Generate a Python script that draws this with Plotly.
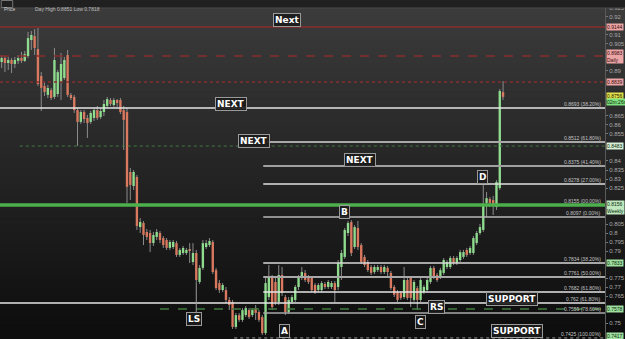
import plotly.graph_objects as go

# ---------------- data ----------------
opens = [0.8950,0.8972,0.8944,0.8961,0.8939,0.8956,0.8972,0.8956,0.8983,0.9072,
0.9094,0.9022,0.8872,0.8817,0.8767,0.8794,0.8756,0.8772,0.8839,0.8861,
0.8989,0.8767,0.8756,0.8683,0.8617,0.8672,0.8639,0.8617,0.8639,0.8683,
0.8644,0.8672,0.8706,0.8739,0.8711,0.8739,0.8739,0.8683,0.8672,0.8339,
0.8261,0.8311,0.8033,0.8056,0.8006,0.8000,0.7944,0.7978,0.8000,0.7972,
0.7961,0.7917,0.7922,0.7944,0.7878,0.7889,0.7889,0.7906,0.7839,0.7889,
0.7728,0.7806,0.7922,0.7933,0.7950,0.7794,0.7722,0.7683,0.7683,0.7628,
0.7617,0.7478,0.7544,0.7517,0.7544,0.7572,0.7544,0.7583,0.7561,0.7533,
0.7444,0.7644,0.7750,0.7728,0.7617,0.7767,0.7644,0.7561,0.7617,0.7628,
0.7700,0.7750,0.7778,0.7756,0.7750,0.7711,0.7683,0.7683,0.7717,0.7700,
0.7700,0.7722,0.7700,0.7811,0.7867,0.8000,0.8061,0.7922,0.8028,0.7933,
0.7867,0.7839,0.7811,0.7783,0.7794,0.7811,0.7783,0.7806,0.7778,0.7700,
0.7672,0.7667,0.7644,0.7739,0.7750,0.7628,0.7694,0.7628,0.7672,0.7683,
0.7728,0.7806,0.7767,0.7756,0.7778,0.7811,0.7811,0.7861,0.7833,0.7850,
0.7867,0.7906,0.7889,0.7889,0.7944,0.8000,0.8017,0.8167,0.8189,0.8183,
0.8144,0.8250,0.8783]

highs = [0.8989,0.8983,0.8978,0.8972,0.8978,0.8989,0.9006,0.9011,0.9117,0.9122,
0.9133,0.9139,0.8894,0.8839,0.8822,0.8806,0.9028,0.8906,0.9000,0.8978,
0.9017,0.8778,0.8767,0.8694,0.8683,0.8683,0.8656,0.8678,0.8694,0.8706,
0.8694,0.8739,0.8756,0.8750,0.8750,0.8744,0.8750,0.8706,0.8694,0.8361,
0.8350,0.8322,0.8083,0.8067,0.8022,0.8017,0.8006,0.8022,0.8011,0.7983,
0.7972,0.7961,0.7961,0.7956,0.7917,0.7928,0.7917,0.7944,0.7944,0.7906,
0.7822,0.7961,0.7961,0.7972,0.7961,0.7806,0.7739,0.7722,0.7700,0.7644,
0.7628,0.7556,0.7556,0.7583,0.7594,0.7583,0.7583,0.7600,0.7572,0.7544,
0.7750,0.7822,0.7767,0.7750,0.7822,0.7811,0.7656,0.7644,0.7656,0.7711,
0.7767,0.7811,0.7794,0.7767,0.7761,0.7722,0.7722,0.7733,0.7728,0.7739,
0.7733,0.7733,0.7850,0.7906,0.8028,0.8067,0.8072,0.8044,0.8067,0.7944,
0.7878,0.7850,0.7822,0.7822,0.7822,0.7822,0.7822,0.7817,0.7789,0.7711,
0.7683,0.7678,0.7811,0.7750,0.7761,0.7739,0.7706,0.7750,0.7711,0.7750,
0.7817,0.7817,0.7778,0.7806,0.7861,0.7850,0.7872,0.7872,0.7872,0.7906,
0.7906,0.7917,0.7928,0.7983,0.8011,0.8050,0.8267,0.8228,0.8200,0.8206,
0.8294,0.8800,0.8844]

lows = [0.8917,0.8894,0.8906,0.8889,0.8917,0.8939,0.8944,0.8950,0.8972,0.9017,
0.8989,0.8817,0.8678,0.8761,0.8750,0.8739,0.8744,0.8756,0.8739,0.8850,
0.8756,0.8739,0.8667,0.8483,0.8606,0.8611,0.8528,0.8606,0.8622,0.8628,
0.8633,0.8650,0.8694,0.8706,0.8700,0.8700,0.8661,0.8461,0.8167,0.8183,
0.8239,0.8017,0.8000,0.7933,0.7961,0.7894,0.7928,0.7961,0.7944,0.7917,
0.7906,0.7906,0.7911,0.7867,0.7867,0.7878,0.7878,0.7833,0.7822,0.7722,
0.7717,0.7794,0.7911,0.7922,0.7772,0.7683,0.7667,0.7672,0.7611,0.7572,
0.7467,0.7467,0.7506,0.7506,0.7533,0.7522,0.7533,0.7517,0.7506,0.7433,
0.7433,0.7628,0.7572,0.7600,0.7600,0.7650,0.7544,0.7550,0.7606,0.7617,
0.7683,0.7739,0.7728,0.7717,0.7672,0.7661,0.7672,0.7672,0.7689,0.7689,
0.7689,0.7617,0.7683,0.7739,0.7856,0.7983,0.7872,0.7911,0.7906,0.7828,
0.7811,0.7783,0.7767,0.7772,0.7783,0.7772,0.7772,0.7750,0.7683,0.7644,
0.7617,0.7628,0.7633,0.7628,0.7589,0.7617,0.7572,0.7617,0.7661,0.7672,
0.7717,0.7744,0.7728,0.7744,0.7767,0.7800,0.7800,0.7822,0.7822,0.7839,
0.7856,0.7867,0.7878,0.7878,0.7933,0.7989,0.8006,0.8089,0.8144,0.8100,
0.8128,0.8239,0.8739]

closes = [0.8972,0.8944,0.8961,0.8939,0.8961,0.8972,0.8956,0.8994,0.9083,0.9100,
0.9028,0.8828,0.8806,0.8783,0.8806,0.8750,0.8961,0.8894,0.8939,0.8961,
0.8767,0.8750,0.8683,0.8617,0.8672,0.8633,0.8611,0.8667,0.8683,0.8639,
0.8678,0.8717,0.8744,0.8717,0.8739,0.8722,0.8672,0.8628,0.8256,0.8267,
0.8339,0.8039,0.8061,0.7989,0.7978,0.7944,0.7989,0.8006,0.7961,0.7933,
0.7917,0.7950,0.7950,0.7878,0.7906,0.7917,0.7906,0.7900,0.7889,0.7739,
0.7806,0.7944,0.7944,0.7956,0.7783,0.7694,0.7683,0.7711,0.7628,0.7600,
0.7478,0.7544,0.7517,0.7572,0.7583,0.7533,0.7572,0.7556,0.7517,0.7444,
0.7722,0.7750,0.7589,0.7617,0.7767,0.7667,0.7561,0.7628,0.7644,0.7700,
0.7756,0.7783,0.7739,0.7728,0.7683,0.7672,0.7711,0.7722,0.7700,0.7728,
0.7722,0.7683,0.7833,0.7889,0.8017,0.8056,0.7889,0.8033,0.7922,0.7839,
0.7822,0.7794,0.7778,0.7811,0.7811,0.7783,0.7811,0.7783,0.7694,0.7656,
0.7628,0.7639,0.7739,0.7639,0.7639,0.7728,0.7628,0.7739,0.7700,0.7739,
0.7806,0.7756,0.7739,0.7794,0.7850,0.7839,0.7861,0.7833,0.7861,0.7894,
0.7894,0.7878,0.7917,0.7972,0.8000,0.8033,0.8156,0.8194,0.8167,0.8156,
0.8283,0.8789,0.8756]

# Fibonacci / support levels (price, label)
fib_levels = [0.8694, 0.8506, 0.8372, 0.8272, 0.8156, 0.8089,
              0.7833, 0.7756, 0.7672, 0.7611, 0.7556, 0.7417]
fib_labels = ["0.8693 (38.20%)", "0.8512 (61.80%)", "0.8375 (41.40%)", "0.8278 (27.00%)",
              "0.8155 (00.00%)", "0.8097 (0.00%)", "0.7834 (38.20%)", "0.7761 (50.00%)",
              "0.7682 (61.80%)", "0.762 (61.80%)", "0.7559 (78.60%)", "0.7425 (100.00%)"]
red_levels = [0.9144, 0.8983, 0.8839]
green_dotted_level = 0.8483
green_dashed_level = 0.7578

# Chart labels: (text, candle position, price)
label_text = ["Next", "NEXT", "NEXT", "NEXT", "D", "B", "LS", "A", "C", "RS", "SUPPORT", "SUPPORT"]
label_x = [86.5, 69.4, 76.5, 108.7, 145.7, 104.0, 58.3, 85.6, 127.0, 131.7, 154.8, 156.3]
label_y = [0.9181, 0.8719, 0.8511, 0.8408, 0.8311, 0.8114, 0.7522, 0.7456, 0.7503, 0.7589, 0.7636, 0.7458]

# Right-axis price tags: (text, price, lines)
tag_text = ["0.9144", "0.8983<br>Daily", "0.8839", "0.8756", "02m:26s",
            "0.8483", "0.8156<br>Weekly", "0.7833", "0.7578", "0.7417"]
tag_y = [0.9144, 0.8983, 0.8839, 0.8762, 0.8730, 0.8483, 0.8140, 0.7833, 0.7578, 0.7426]
tag_lines = [1, 2, 1, 1, 1, 1, 2, 1, 1, 1]

# ---------------- figure ----------------
GREEN = "#8fdc8f"
RED = "#d9795f"
WICK = "#8c8c8c"
n = len(opens)
idx = list(range(n))
YMIN, YMAX = 0.74111, 0.92944
XMIN, XMAX = -0.5, 182.9

fig = go.Figure()

# wicks (upper and lower parts, drawn outside bodies)
wx, wy = [], []
for i in idx:
    top = max(opens[i], closes[i]); bot = min(opens[i], closes[i])
    wx += [i, i, None, i, i, None]
    wy += [top, highs[i], None, bot, lows[i], None]
fig.add_trace(go.Scatter(x=wx, y=wy, mode="lines", line=dict(color=WICK, width=1),
                         hoverinfo="skip", showlegend=False))

# bodies
body_h = []
body_c = []
for i in idx:
    d = closes[i] - opens[i]
    if abs(d) < 0.00012:
        d = 0.00012 if d >= 0 else -0.00012
    body_h.append(d)
    body_c.append(GREEN if closes[i] >= opens[i] else RED)
fig.add_trace(go.Bar(x=idx, y=body_h, base=opens, width=0.72,
                     marker=dict(color=body_c, line=dict(width=0)),
                     hoverinfo="skip", showlegend=False))

shapes = []
# background gradient
NB = 48
for k in range(NB):
    t = k / (NB - 1)
    top_c = (60, 60, 60); bot_c = (14, 14, 14)
    c = tuple(int(top_c[j] + (bot_c[j] - top_c[j]) * t) for j in range(3))
    shapes.append(dict(type="rect", xref="paper", yref="paper", x0=0, x1=1.04,
                       y0=1 - (k + 1) / NB, y1=1 - k / NB + 0.002,
                       fillcolor="rgb(%d,%d,%d)" % c, line=dict(width=0), layer="below"))

# red resistance lines
for lv, dash in zip(red_levels, ["solid", "dash", "dot"]):
    shapes.append(dict(type="line", xref="x", yref="y", x0=XMIN, x1=XMAX, y0=lv, y1=lv,
                       line=dict(color="#8a2c2c", width=1.5, dash=dash)))

# green dotted & dashed
shapes.append(dict(type="line", xref="x", yref="y", x0=5.5, x1=XMAX,
                   y0=green_dotted_level, y1=green_dotted_level,
                   line=dict(color="#3f7a3f", width=1, dash="dot")))
shapes.append(dict(type="line", xref="x", yref="y", x0=48, x1=XMAX,
                   y0=green_dashed_level, y1=green_dashed_level,
                   line=dict(color="#3f7a3f", width=1.5, dash="dash")))

# fib lines
fib_styles = [
    (XMIN, "#e6e6e6", 1.5, "solid"),
    (80.5, "#a8a8a8", 2, "solid"),
    (79.3, "#a0a0a0", 2, "solid"),
    (79.3, "#e0e0e0", 1.5, "solid"),
    (XMIN, "#4cb04c", 3.5, "solid"),
    (79.3, "#b8b8b8", 1.5, "solid"),
    (79.3, "#d8d8d8", 1.5, "solid"),
    (79.3, "#a8a8a8", 2, "solid"),
    (79.3, "#e6e6e6", 1.5, "solid"),
    (XMIN, "#e6e6e6", 1.5, "solid"),
    (79.3, "#a8a8a8", 1.5, "solid"),
    (70.5, "#9a9a9a", 1, "dot"),
]
for lv, (x0, col, w, dash) in zip(fib_levels, fib_styles):
    shapes.append(dict(type="line", xref="x", yref="y", x0=x0, x1=XMAX, y0=lv, y1=lv,
                       line=dict(color=col, width=w, dash=dash)))

# LS pointer line
shapes.append(dict(type="line", xref="x", yref="y", x0=59, x1=59, y0=lows[59], y1=0.7545,
                   line=dict(color="#9a9a9a", width=1)))

# top toolbar strip
shapes.append(dict(type="rect", xref="paper", yref="paper", x0=0, x1=1.04, y0=1 - 8 / 339, y1=1.01,
                   fillcolor="#202020", line=dict(width=0)))
shapes.append(dict(type="line", xref="paper", yref="paper", x0=0, x1=1.04,
                   y0=1 - 8 / 339, y1=1 - 8 / 339, line=dict(color="#4a4a4a", width=1)))
shapes.append(dict(type="rect", xref="paper", yref="paper", x0=0.002, x1=0.021,
                   y0=1 - 7.5 / 339, y1=1 - 0.5 / 339, line=dict(color="#777", width=1)))

annotations = []
for t, xx, yy in zip(label_text, label_x, label_y):
    annotations.append(dict(x=xx, y=yy, xref="x", yref="y", text="<b>%s</b>" % t, showarrow=False,
                            font=dict(family="DejaVu Sans", size=9, color="#ffffff"),
                            bgcolor="rgba(28,28,28,0.9)", bordercolor="#9a9a9a",
                            borderwidth=1, borderpad=1))

for lv, t in zip(fib_levels, fib_labels):
    annotations.append(dict(x=0.997, y=lv, xref="paper", yref="y", text=t, showarrow=False,
                            xanchor="right", yanchor="bottom", yshift=-1,
                            font=dict(family="Liberation Sans", size=5, color="#c4c4c4")))

# right axis colored tags
tag_bg = ["#eba5a5", "#eba5a5", "#eba5a5", "#e4e04a", "#7fe07f",
          "#d7efd7", "#bfe8bf", "#9fe09f", "#9fe09f", "#9fe09f"]
tag_fc = ["#3a0a0a", "#3a0a0a", "#3a0a0a", "#222200", "#0a2a0a",
          "#0a2a0a", "#0a2a0a", "#0a2a0a", "#0a2a0a", "#0a2a0a"]
for t, yy, bg, fc in zip(tag_text, tag_y, tag_bg, tag_fc):
    annotations.append(dict(x=1.002, y=yy, xref="paper", yref="y", text=t, showarrow=False,
                            xanchor="left", font=dict(family="Liberation Sans", size=5, color=fc),
                            bgcolor=bg, borderpad=0, align="left"))

# tick labels hidden behind the tags (as in the reference)
PX = (YMAX - YMIN) / 339.0
ticks = []
v = 0.745
while v <= 0.9251:
    hidden = any(abs(v - ty) < (3.5 * tl + 4) * PX for ty, tl in zip(tag_y, tag_lines))
    if not hidden:
        ticks.append(round(v, 3))
    v += 0.005

# toolbar text
annotations.append(dict(x=0.004, y=1 - 4 / 339, xref="paper", yref="paper", text="Price",
                        showarrow=False, xanchor="left",
                        font=dict(family="Liberation Sans", size=5, color="#cfcfcf")))
annotations.append(dict(x=0.055, y=1 - 4 / 339, xref="paper", yref="paper",
                        text="Day High 0.8851 Low 0.7818",
                        showarrow=False, xanchor="left",
                        font=dict(family="Liberation Sans", size=5, color="#bdbdbd")))

fig.update_layout(
    width=625, height=339,
    margin=dict(l=0, r=18, t=0, b=0),
    paper_bgcolor="#1c1c1c", plot_bgcolor="rgba(0,0,0,0)",
    barmode="overlay", showlegend=False,
    shapes=shapes, annotations=annotations,
    xaxis=dict(range=[XMIN, XMAX], visible=False, fixedrange=True),
    yaxis=dict(range=[YMIN, YMAX], side="right", tickmode="array", tickvals=ticks,
               ticktext=[("%g" % t) for t in ticks],
               showgrid=False, zeroline=False, showline=True, linecolor="#5a5a5a",
               ticks="outside", ticklen=2, tickcolor="#777",
               tickfont=dict(family="Liberation Sans", size=6, color="#a8a8a8"),
               fixedrange=True),
)

fig.write_html("out.html", config={"displayModeBar": False})
